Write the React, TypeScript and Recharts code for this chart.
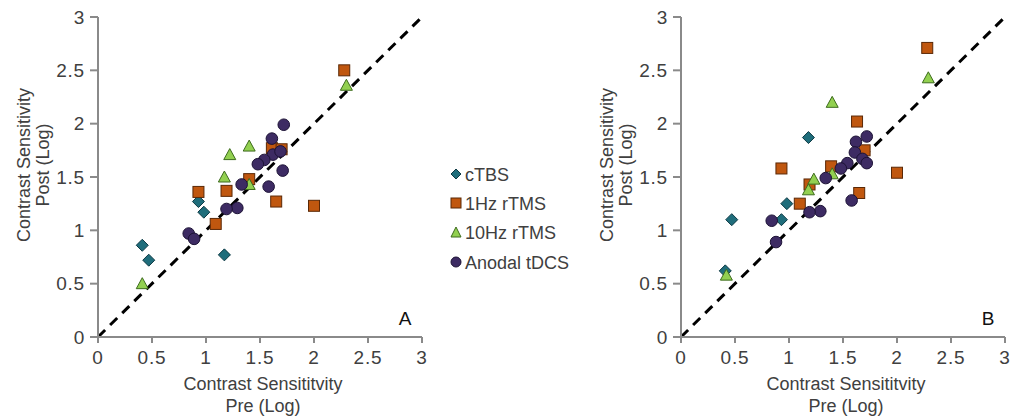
import React from 'react';
import { ScatterChart, Scatter, XAxis, YAxis, ReferenceLine } from 'recharts';

type P = { pre: number; post: number };

// Panel A
const aCTBS: P[] = [
  { pre: 0.41, post: 0.86 }, { pre: 0.47, post: 0.72 }, { pre: 0.93, post: 1.27 },
  { pre: 0.98, post: 1.17 }, { pre: 1.17, post: 0.77 },
];
const a1Hz: P[] = [
  { pre: 2.28, post: 2.5 }, { pre: 0.93, post: 1.36 }, { pre: 1.19, post: 1.37 },
  { pre: 1.09, post: 1.06 }, { pre: 1.4, post: 1.48 }, { pre: 1.61, post: 1.77 },
  { pre: 1.7, post: 1.76 }, { pre: 1.65, post: 1.27 }, { pre: 2.0, post: 1.23 },
];
const a10Hz: P[] = [
  { pre: 2.3, post: 2.36 }, { pre: 1.22, post: 1.71 }, { pre: 1.4, post: 1.79 },
  { pre: 1.17, post: 1.5 }, { pre: 1.4, post: 1.43 }, { pre: 0.41, post: 0.5 },
];
const aTDCS: P[] = [
  { pre: 1.72, post: 1.99 }, { pre: 1.61, post: 1.86 }, { pre: 1.62, post: 1.71 },
  { pre: 1.69, post: 1.74 }, { pre: 1.54, post: 1.66 }, { pre: 1.48, post: 1.62 },
  { pre: 1.71, post: 1.56 }, { pre: 1.58, post: 1.41 }, { pre: 1.33, post: 1.43 },
  { pre: 1.29, post: 1.21 }, { pre: 1.19, post: 1.2 }, { pre: 0.84, post: 0.97 },
  { pre: 0.89, post: 0.92 },
];

// Panel B
const bCTBS: P[] = [
  { pre: 0.41, post: 0.62 }, { pre: 0.47, post: 1.1 }, { pre: 1.18, post: 1.87 },
  { pre: 0.98, post: 1.25 }, { pre: 0.93, post: 1.1 },
];
const b1Hz: P[] = [
  { pre: 2.28, post: 2.71 }, { pre: 0.93, post: 1.58 }, { pre: 1.63, post: 2.02 },
  { pre: 1.39, post: 1.6 }, { pre: 1.19, post: 1.43 }, { pre: 1.1, post: 1.25 },
  { pre: 1.7, post: 1.75 }, { pre: 1.65, post: 1.35 }, { pre: 2.0, post: 1.54 },
];
const b10Hz: P[] = [
  { pre: 2.29, post: 2.43 }, { pre: 1.4, post: 2.2 }, { pre: 1.23, post: 1.48 },
  { pre: 1.18, post: 1.38 }, { pre: 1.4, post: 1.53 }, { pre: 0.42, post: 0.58 },
];
const bTDCS: P[] = [
  { pre: 1.72, post: 1.88 }, { pre: 1.62, post: 1.83 }, { pre: 1.61, post: 1.73 },
  { pre: 1.68, post: 1.67 }, { pre: 1.72, post: 1.63 }, { pre: 1.54, post: 1.63 },
  { pre: 1.48, post: 1.58 }, { pre: 1.34, post: 1.49 }, { pre: 1.58, post: 1.28 },
  { pre: 1.29, post: 1.18 }, { pre: 1.19, post: 1.17 }, { pre: 0.84, post: 1.09 },
  { pre: 0.88, post: 0.89 },
];

const axisTicks = [0, 0.5, 1, 1.5, 2, 2.5, 3];
const seriesNames = ['cTBS', '1Hz rTMS', '10Hz rTMS', 'Anodal tDCS'];
const xTitle = ['Contrast Sensititvity', 'Pre (Log)'];
const yTitle = ['Contrast Sensitivity', 'Post (Log)'];

const FONT = '"Liberation Sans", Arial, sans-serif';
const AXIS = '#8a8a8a';
const TXT = '#404040';

const COL = {
  ctbs: { fill: '#1f6d7b', stroke: '#0e3a44' },
  hz1: { fill: '#c0570f', stroke: '#5a2806' },
  hz10: { fill: '#92d050', stroke: '#3d6b1d' },
  tdcs: { fill: '#3d2b63', stroke: '#1c1235' },
};

const Diamond = (p: any) => {
  const { cx, cy } = p;
  const r = 6;
  return <path d={`M${cx},${cy - r}L${cx + r},${cy}L${cx},${cy + r}L${cx - r},${cy}Z`} fill={COL.ctbs.fill} stroke={COL.ctbs.stroke} strokeWidth={1} />;
};
const Square = (p: any) => {
  const { cx, cy } = p;
  const s = 11;
  return <rect x={cx - s / 2} y={cy - s / 2} width={s} height={s} fill={COL.hz1.fill} stroke={COL.hz1.stroke} strokeWidth={1} />;
};
const Triangle = (p: any) => {
  const { cx, cy } = p;
  const w = 12, h = 10;
  return <path d={`M${cx},${cy - h / 2 - 1}L${cx + w / 2},${cy + h / 2}L${cx - w / 2},${cy + h / 2}Z`} fill={COL.hz10.fill} stroke={COL.hz10.stroke} strokeWidth={1} />;
};
const Circle = (p: any) => {
  const { cx, cy } = p;
  return <circle cx={cx} cy={cy} r={5.8} fill={COL.tdcs.fill} stroke={COL.tdcs.stroke} strokeWidth={1} />;
};

const XTitle = (letter: string) => (props: any) => {
  const vb = props.viewBox;
  const cx = vb.x + vb.width / 2 + 3;
  return (
    <g>
      <text x={cx} y={390} textAnchor="middle" fontSize={18} fill={TXT} fontFamily={FONT}>{xTitle[0]}</text>
      <text x={cx} y={412} textAnchor="middle" fontSize={18} fill={TXT} fontFamily={FONT}>{xTitle[1]}</text>
      <text x={vb.x + vb.width - 17} y={325} textAnchor="middle" fontSize={19} fill="#111" fontFamily={FONT}>{letter}</text>
    </g>
  );
};

const YTitle = (props: any) => {
  const cy = 165;
  const x1 = 30, x2 = 49;
  return (
    <g>
      <text x={x1} y={cy} transform={`rotate(-90, ${x1}, ${cy})`} textAnchor="middle" fontSize={18} fill={TXT} fontFamily={FONT}>{yTitle[0]}</text>
      <text x={x2} y={cy} transform={`rotate(-90, ${x2}, ${cy})`} textAnchor="middle" fontSize={18} fill={TXT} fontFamily={FONT}>{yTitle[1]}</text>
    </g>
  );
};

const tickStyle = { fill: TXT, fontSize: 19, fontFamily: FONT, letterSpacing: 0.8 };

const Panel = ({ width, right, letter, d }: { width: number; right: number; letter: string; d: P[][] }) => (
  <ScatterChart width={width} height={419} margin={{ top: 17, right, bottom: 0, left: 0 }}>
    <XAxis
      type="number" dataKey="pre" domain={[0, 3]} ticks={axisTicks} height={82}
      axisLine={{ stroke: AXIS, strokeWidth: 2 }} tickLine={{ stroke: AXIS, strokeWidth: 2 }}
      tickSize={6} tickMargin={8} interval={0} allowDataOverflow
      tick={tickStyle}
      label={{ content: XTitle(letter) } as any}
    />
    <YAxis
      type="number" dataKey="post" domain={[0, 3]} ticks={axisTicks} width={98}
      axisLine={{ stroke: AXIS, strokeWidth: 2 }} tickLine={{ stroke: AXIS, strokeWidth: 2 }}
      tickSize={8} tickMargin={5} interval={0} allowDataOverflow
      tick={tickStyle}
      label={{ content: YTitle } as any}
    />
    <ReferenceLine segment={[{ x: 0, y: 0 }, { x: 3, y: 3 }]} stroke="#000" strokeWidth={3} strokeDasharray="10 7" ifOverflow="visible" />
    <Scatter name={seriesNames[0]} data={d[0]} shape={Diamond} isAnimationActive={false} />
    <Scatter name={seriesNames[1]} data={d[1]} shape={Square} isAnimationActive={false} />
    <Scatter name={seriesNames[2]} data={d[2]} shape={Triangle} isAnimationActive={false} />
    <Scatter name={seriesNames[3]} data={d[3]} shape={Circle} isAnimationActive={false} />
  </ScatterChart>
);

const legendIcons = [
  <path d="M6,1L11,6L6,11L1,6Z" fill={COL.ctbs.fill} stroke={COL.ctbs.stroke} />,
  <rect x={1} y={1} width={10} height={10} fill={COL.hz1.fill} stroke={COL.hz1.stroke} />,
  <path d="M6,1L11,11L1,11Z" fill={COL.hz10.fill} stroke={COL.hz10.stroke} />,
  <circle cx={6} cy={6} r={5} fill={COL.tdcs.fill} stroke={COL.tdcs.stroke} />,
];
const legendY = [174, 203, 232, 262];

export default function App() {
  return (
    <div style={{ position: 'absolute', left: 0, top: 0, width: 1010, height: 419, background: '#fff', overflow: 'hidden' }}>
      <div style={{ position: 'absolute', left: 0, top: 0 }}>
        <Panel width={440} right={18} letter="A" d={[aCTBS, a1Hz, a10Hz, aTDCS]} />
      </div>
      <div style={{ position: 'absolute', left: 583, top: 0 }}>
        <Panel width={427} right={5} letter="B" d={[bCTBS, b1Hz, b10Hz, bTDCS]} />
      </div>
      <svg style={{ position: 'absolute', left: 0, top: 0 }} width={1010} height={419} pointerEvents="none">
        {seriesNames.map((n, i) => (
          <g key={n}>
            <g transform={`translate(450, ${legendY[i] - 6})`}>{legendIcons[i]}</g>
            <text x={465} y={legendY[i] + 6.5} fontSize={18} fill={TXT} fontFamily={FONT}>{n}</text>
          </g>
        ))}
      </svg>
    </div>
  );
}
